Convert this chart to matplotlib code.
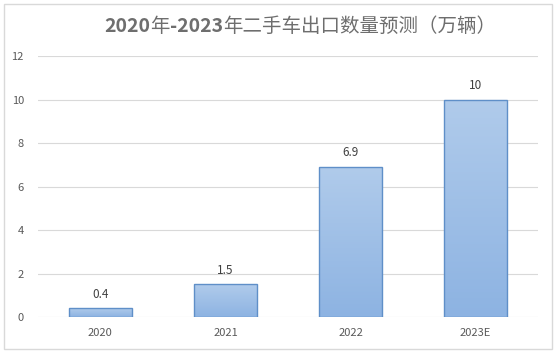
import numpy as np
import matplotlib
matplotlib.use('Agg')
import matplotlib.pyplot as plt
from matplotlib.colors import LinearSegmentedColormap
from matplotlib.patches import Rectangle
from matplotlib.text import OffsetFrom

plt.rcParams['font.family'] = ['Noto Sans CJK SC', 'DejaVu Sans']

# data
categories = ['2020', '2021', '2022', '2023E']
values = [0.4, 1.5, 6.9, 10]
value_labels = ['0.4', '1.5', '6.9', '10']
yticks = [0, 2, 4, 6, 8, 10, 12]
# title pieces: (text, bold?)
title_parts = [('2020', True), ('年', False), ('-2023', True),
               ('年二手车出口数量预测（万辆）', False)]

fig = plt.figure(figsize=(5.56, 3.53), dpi=100)
fig.patch.set_facecolor('white')
# light outer frame like an Excel chart area
fig.add_artist(Rectangle((0.007, 0.011), 0.985, 0.978, transform=fig.transFigure,
                         fill=False, edgecolor='#d9d9d9', linewidth=1))

ax = fig.add_axes([0.068, 0.102, 0.9, 0.739])
x = np.arange(len(categories))
width = 0.5

cmap = LinearSegmentedColormap.from_list('bar', ['#8db3e2', '#b0cbeb'])
grad = np.linspace(0, 1, 256).reshape(-1, 1)

bars = ax.bar(x, values, width=width, color='none', edgecolor='#5f8fc8',
              linewidth=1, zorder=3)
for b in bars:
    x0, w, h = b.get_x(), b.get_width(), b.get_height()
    im = ax.imshow(grad, cmap=cmap, aspect='auto', origin='lower',
                   extent=[x0, x0 + w, 0, h], zorder=2)
    im.set_clip_path(b)

for xi, v, lab in zip(x, values, value_labels):
    ax.text(xi, v + 0.35, lab, ha='center', va='bottom', fontsize=8.5,
            color='#404040')

ax.set_xlim(-0.5, len(categories) - 0.5)
ax.set_ylim(0, 12)
ax.set_yticks(yticks)
ax.set_xticks(x)
ax.set_xticklabels(categories)
ax.grid(axis='y', color='#d9d9d9', linewidth=0.8, zorder=0)
ax.set_axisbelow(True)
for s in ax.spines.values():
    s.set_visible(False)
ax.tick_params(length=0, labelsize=8, colors='#595959')
ax.tick_params(axis='y', pad=10)
ax.tick_params(axis='x', pad=8)

# title drawn piece by piece so digits are bold and Chinese is regular
fig.canvas.draw()
renderer = fig.canvas.get_renderer()
pieces = []
for txt, bold in title_parts:
    t = fig.text(0, 0.925, txt, ha='left', va='center', fontsize=14,
                 fontweight='bold' if bold else 'normal', color='#6e6e6e')
    pieces.append(t)
widths = [p.get_window_extent(renderer).width for p in pieces]
total = sum(widths)
start = 0.54 * fig.bbox.width - total / 2
for p, w in zip(pieces, widths):
    p.set_x(start / fig.bbox.width)
    start += w

fig.savefig('out.png', dpi=100)
